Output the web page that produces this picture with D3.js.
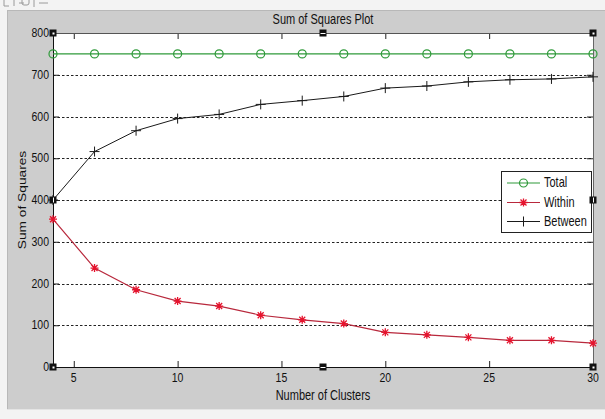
<!DOCTYPE html>
<html><head><meta charset="utf-8">
<script src="https://cdn.jsdelivr.net/npm/d3@7/dist/d3.min.js"></script>
<style>
html,body{margin:0;padding:0;background:#f2f2f2;}
svg{display:block;}
text{font-family:"Liberation Sans",Arial,sans-serif;fill:#111;}
</style></head>
<body>
<svg id="c" width="605" height="419"></svg>
<script>
// ---- data ----
const clusters = [4,6,8,10,12,14,16,18,20,22,24,26,28,30];
const totalSS   = [750,750,750,750,750,750,750,750,750,750,750,750,750,750];
const withinSS  = [354,237,185,158,146,124,113,104,83,77,71,64,64,57];
const betweenSS = [400,516,566,595,605,629,638,648,668,673,683,688,690,695];
const xTicks = [5,10,15,20,25,30];
const yTicks = [0,100,200,300,400,500,600,700,800];
const gridTicks = [100,200,300,400,500,600,700];
const titleText = "Sum of Squares Plot";
const xLabel = "Number of Clusters";
const yLabel = "Sum of Squares";
const legendNames = ["Total","Within","Between"];

const svg = d3.select("#c");
const W = 605, H = 419;
const L = 53, R = 593, T = 33, B = 367;
const SY = 1.25; // vertical text stretch

// window chrome
svg.append("rect").attr("x",0).attr("y",0).attr("width",W).attr("height",H).attr("fill","#f3f3f3");
svg.append("rect").attr("x",7).attr("y",10).attr("width",W-7).attr("height",399).attr("fill","#cdcdcd");
svg.append("line").attr("x1",7).attr("x2",W).attr("y1",10.5).attr("y2",10.5).attr("stroke","#b8b8b8");
svg.append("line").attr("x1",7.5).attr("x2",7.5).attr("y1",10).attr("y2",409).attr("stroke","#b8b8b8");
svg.append("line").attr("x1",7).attr("x2",W).attr("y1",409.5).attr("y2",409.5).attr("stroke","#e4e4e4");
// toolbar icon fragments
const tb = svg.append("g").attr("fill","none").attr("stroke","#9a9a9a");
tb.append("path").attr("d","M4,0 V6 H9");
tb.append("path").attr("d","M14,0 V6 M19,3 H24");
tb.append("rect").attr("x",22).attr("y",-4).attr("width",7).attr("height",9).attr("rx",2);
tb.append("path").attr("d","M34,0 V7");
tb.append("path").attr("d","M39,3 H48");

const x = d3.scaleLinear().domain([4,30]).range([L,R]);
const y = d3.scaleLinear().domain([0,800]).range([B,T]);

// plot area
svg.append("rect").attr("x",L).attr("y",T).attr("width",R-L).attr("height",B-T).attr("fill","#fff");

// grid
svg.append("g").selectAll("line").data(gridTicks).join("line")
  .attr("x1",L).attr("x2",R).attr("y1",d=>Math.round(y(d))+0.5).attr("y2",d=>Math.round(y(d))+0.5)
  .attr("stroke","#222").attr("stroke-width",1).attr("stroke-dasharray","2.5,2");

// axes (ticks inward)
const ax = svg.append("g");
ax.append("g").attr("transform",`translate(0,${B})`).call(d3.axisBottom(x).tickValues(xTicks).tickSizeInner(-6).tickSizeOuter(0).tickFormat(""));
ax.append("g").attr("transform",`translate(0,${T})`).call(d3.axisTop(x).tickValues(xTicks).tickSizeInner(-6).tickSizeOuter(0).tickFormat(""));
ax.append("g").attr("transform",`translate(${L},0)`).call(d3.axisLeft(y).tickValues(yTicks).tickSizeInner(-6).tickSizeOuter(0).tickFormat(""));
ax.append("g").attr("transform",`translate(${R},0)`).call(d3.axisRight(y).tickValues(yTicks).tickSizeInner(-6).tickSizeOuter(0).tickFormat(""));
ax.selectAll("path.domain").remove();
ax.selectAll("line").attr("stroke","#222");
// box
svg.append("line").attr("x1",L).attr("x2",R).attr("y1",B+0.5).attr("y2",B+0.5).attr("stroke","#111");
svg.append("line").attr("x1",L+0.5).attr("x2",L+0.5).attr("y1",T).attr("y2",B).attr("stroke","#111");
svg.append("line").attr("x1",L).attr("x2",R).attr("y1",T+0.5).attr("y2",T+0.5).attr("stroke","#555");
svg.append("line").attr("x1",R+0.5).attr("x2",R+0.5).attr("y1",T).attr("y2",B).attr("stroke","#666");

// tick labels
function stxt(g, tx, ty, str, size, anchor){
  return g.append("text").attr("transform",`translate(${tx},${ty}) scale(1,${SY})`)
    .attr("text-anchor",anchor).attr("font-size",size).text(str);
}
const lab = svg.append("g");
xTicks.forEach(d=>stxt(lab, x(d), 382, d, "10.5px", "middle"));
yTicks.forEach(d=>stxt(lab, 49, y(d)+4, d, "10.5px", "end"));

// title & labels
stxt(svg, (L+R)/2, 24, titleText, "11px", "middle");
stxt(svg, (L+R)/2, 400, xLabel, "11px", "middle");
svg.append("text").attr("transform",`translate(26,${(T+B)/2}) scale(1,${SY}) rotate(-90)`)
  .attr("text-anchor","middle").attr("font-size","11px").text(yLabel);

// series
const colTotal = "#2f9a3a", colWithinL = "#b8283c", colWithinM = "#e5142e", colBetween = "#1a1a1a";
const line = d3.line().x(d=>x(d[0])).y(d=>y(d[1]));
const totPts = clusters.map((c,i)=>[c,totalSS[i]]);
const witPts = clusters.map((c,i)=>[c,withinSS[i]]);
const betPts = clusters.map((c,i)=>[c,betweenSS[i]]);

svg.append("path").attr("d",line(totPts)).attr("fill","none").attr("stroke",colTotal).attr("stroke-width",1.2);
svg.append("path").attr("d",line(witPts)).attr("fill","none").attr("stroke",colWithinL).attr("stroke-width",1.2);
svg.append("path").attr("d",line(betPts)).attr("fill","none").attr("stroke",colBetween).attr("stroke-width",1);

function circleMark(g, cx, cy){ g.append("circle").attr("cx",cx).attr("cy",cy).attr("r",4).attr("fill","none").attr("stroke",colTotal).attr("stroke-width",1.2); }
function starMark(g, cx, cy){
  const s=4, d=3;
  g.append("path").attr("d",`M${cx-s},${cy}H${cx+s}M${cx},${cy-s}V${cy+s}M${cx-d},${cy-d}L${cx+d},${cy+d}M${cx-d},${cy+d}L${cx+d},${cy-d}`)
   .attr("stroke",colWithinM).attr("stroke-width",1.3).attr("fill","none");
}
function plusMark(g, cx, cy){
  const s=5;
  g.append("path").attr("d",`M${cx-s},${cy}H${cx+s}M${cx},${cy-s}V${cy+s}`).attr("stroke",colBetween).attr("stroke-width",1).attr("fill","none");
}
const mk = svg.append("g");
totPts.forEach(p=>circleMark(mk, x(p[0]), y(p[1])));
witPts.forEach(p=>starMark(mk, x(p[0]), y(p[1])));
betPts.forEach(p=>plusMark(mk, x(p[0]), y(p[1])));

// legend
const lg = svg.append("g");
lg.append("rect").attr("x",501.5).attr("y",171.5).attr("width",90).attr("height",61).attr("fill","#fff").attr("stroke","#222");
const lgY = [183,202.5,221.5];
const lgCol = [colTotal, colWithinL, colBetween];
const lgMark = [circleMark, starMark, plusMark];
legendNames.forEach((n,i)=>{
  lg.append("line").attr("x1",507).attr("x2",540).attr("y1",lgY[i]).attr("y2",lgY[i]).attr("stroke",lgCol[i]).attr("stroke-width",1.1);
  lgMark[i](lg, 523.5, lgY[i]);
  stxt(lg, 544, lgY[i]+4, n, "11px", "start");
});

// selection handles
const hd = svg.append("g");
const hx = [L, (L+R)/2, R], hy = [T, (T+B)/2, B];
hx.forEach((hxv,i)=>hy.forEach((hyv,j)=>{
  if(i===1 && j===1) return;
  hd.append("rect").attr("x",hxv-3.5).attr("y",hyv-3.5).attr("width",7).attr("height",7).attr("fill","#111");
  if(i===1) hd.append("line").attr("x1",hxv-2.5).attr("x2",hxv+2.5).attr("y1",hyv+0.5).attr("y2",hyv+0.5).attr("stroke","#fff");
  else if(j===1) hd.append("line").attr("x1",hxv+0.5).attr("x2",hxv+0.5).attr("y1",hyv-2.5).attr("y2",hyv+2.5).attr("stroke","#fff");
  else hd.append("rect").attr("x",hxv-0.5).attr("y",hyv-0.5).attr("width",2).attr("height",2).attr("fill","#fff");
}));
</script>
</body></html>
